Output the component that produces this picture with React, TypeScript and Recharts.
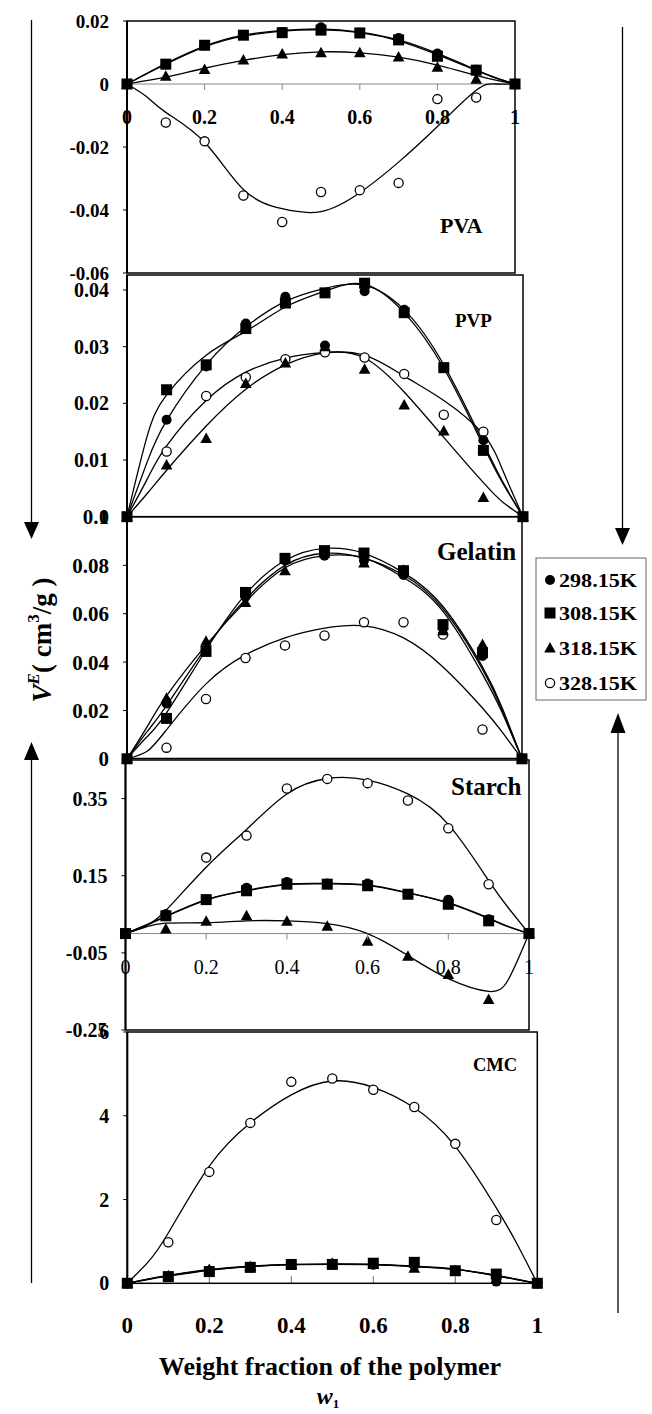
import React from "react";
import { ComposedChart, Line, Scatter, XAxis, YAxis, ReferenceLine } from "recharts";

const FONT = '"Liberation Serif", "Times New Roman", serif';

// temperatures (legend order)
const temps = ["298.15K", "308.15K", "318.15K", "328.15K"];
const kinds = ["circle", "square", "triangle", "open"];

// measured compositions
const xs = [0, 0.1, 0.2, 0.3, 0.4, 0.5, 0.6, 0.7, 0.8, 0.9, 1];
const fitX = [0, 0.05, 0.1, 0.2, 0.3, 0.4, 0.5, 0.6, 0.7, 0.8, 0.9, 0.95, 1];
const xTicks = [0, 0.2, 0.4, 0.6, 0.8, 1];

// PVA
const pva298 = [0, 0.0062, 0.0122, 0.0155, 0.0165, 0.018, 0.0163, 0.0146, 0.0097, 0.0045, 0];
const pva308 = [0, 0.0063, 0.0123, 0.0155, 0.0163, 0.0171, 0.0162, 0.014, 0.0088, 0.0044, 0];
const pva318 = [0, 0.0025, 0.0046, 0.0076, 0.0095, 0.0099, 0.0099, 0.0086, 0.0053, 0.0015, 0];
const pva328 = [0, -0.0122, -0.0182, -0.0354, -0.0438, -0.0343, -0.0337, -0.0314, -0.0048, -0.0043, 0];
const pvaFit298 = [0, 0.0033, 0.0065, 0.012, 0.0155, 0.017, 0.0175, 0.0165, 0.014, 0.0097, 0.0045, 0.002, 0];
const pvaFit308 = [0, 0.0032, 0.0063, 0.0118, 0.0152, 0.0168, 0.0172, 0.0163, 0.0137, 0.0093, 0.0043, 0.0019, 0];
const pvaFit318 = [0, 0.0011, 0.0022, 0.005, 0.0075, 0.0093, 0.0102, 0.0099, 0.0085, 0.006, 0.0027, 0.0012, 0];
const pvaFit328 = [0, -0.004, -0.009, -0.0185, -0.0335, -0.0396, -0.0405, -0.0345, -0.0248, -0.0135, -0.002, 0, 0];

// PVP
const pvp298 = [0, 0.0171, 0.0265, 0.0341, 0.0388, 0.0302, 0.0398, 0.0365, 0.0263, 0.0135, 0];
const pvp308 = [0, 0.0224, 0.0268, 0.0332, 0.0377, 0.0395, 0.0412, 0.036, 0.0263, 0.0117, 0];
const pvp318 = [0, 0.0091, 0.0138, 0.0235, 0.0271, 0.03, 0.026, 0.0197, 0.0151, 0.0034, 0];
const pvp328 = [0, 0.0115, 0.0213, 0.0246, 0.0278, 0.029, 0.0281, 0.0252, 0.018, 0.015, 0];
const pvpFit298 = [0, 0.0095, 0.017, 0.0268, 0.0335, 0.038, 0.0403, 0.0408, 0.0365, 0.0268, 0.013, 0.006, 0];
const pvpFit308 = [0, 0.014, 0.0215, 0.0285, 0.0327, 0.037, 0.0398, 0.041, 0.036, 0.0262, 0.0125, 0.0058, 0];
const pvpFit318 = [0, 0.004, 0.0082, 0.016, 0.0225, 0.0268, 0.0289, 0.028, 0.022, 0.014, 0.006, 0.0025, 0];
const pvpFit328 = [0, 0.0065, 0.0125, 0.0205, 0.0255, 0.028, 0.029, 0.0285, 0.0248, 0.0205, 0.0145, 0.008, 0];

// Gelatin
const gel298 = [0, 0.0229, 0.045, 0.067, 0.082, 0.084, 0.082, 0.076, 0.054, 0.0425, 0];
const gel308 = [0, 0.0167, 0.0444, 0.0688, 0.0829, 0.0861, 0.0851, 0.0778, 0.0555, 0.0439, 0];
const gel318 = [0, 0.025, 0.0486, 0.0646, 0.0778, 0.085, 0.081, 0.078, 0.053, 0.0473, 0];
const gel328 = [0, 0.0046, 0.0247, 0.0417, 0.0469, 0.051, 0.0565, 0.0565, 0.0514, 0.0121, 0];
const gelFit298 = [0, 0.011, 0.022, 0.046, 0.066, 0.08, 0.085, 0.083, 0.076, 0.062, 0.037, 0.02, 0];
const gelFit308 = [0, 0.009, 0.019, 0.045, 0.068, 0.082, 0.087, 0.085, 0.077, 0.063, 0.038, 0.021, 0];
const gelFit318 = [0, 0.013, 0.026, 0.047, 0.065, 0.079, 0.084, 0.083, 0.075, 0.061, 0.035, 0.019, 0];
const gelFit328 = [0, 0.003, 0.012, 0.031, 0.043, 0.05, 0.054, 0.055, 0.05, 0.038, 0.021, 0.011, 0];

// Starch
const st298 = [0, 0.048, 0.088, 0.119, 0.134, 0.13, 0.13, 0.102, 0.088, 0.037, 0];
const st308 = [0, 0.046, 0.088, 0.111, 0.128, 0.128, 0.124, 0.102, 0.076, 0.033, 0];
const st318 = [0, 0.012, 0.032, 0.046, 0.032, 0.019, -0.02, -0.059, -0.106, -0.171, 0];
const st328 = [0, 0.05, 0.197, 0.254, 0.376, 0.401, 0.39, 0.345, 0.273, 0.128, 0];
const stFit298 = [0, 0.022, 0.045, 0.088, 0.112, 0.128, 0.13, 0.126, 0.106, 0.08, 0.04, 0.018, 0];
const stFit308 = [0, 0.021, 0.044, 0.087, 0.111, 0.127, 0.129, 0.125, 0.105, 0.079, 0.039, 0.017, 0];
const stFit318 = [0, 0.017, 0.027, 0.028, 0.033, 0.033, 0.026, 0, -0.057, -0.117, -0.15, -0.117, 0];
const stFit328 = [0, 0.02, 0.06, 0.172, 0.27, 0.362, 0.402, 0.398, 0.362, 0.283, 0.137, 0.065, 0];

// CMC
const cmc298 = [0, 0.15, 0.3, 0.38, 0.45, 0.45, 0.44, 0.42, 0.3, 0.04, 0];
const cmc308 = [0, 0.16, 0.28, 0.38, 0.45, 0.45, 0.48, 0.5, 0.3, 0.22, 0];
const cmc318 = [0, 0.18, 0.33, 0.4, 0.44, 0.48, 0.45, 0.36, 0.3, 0.1, 0];
const cmc328 = [0, 0.98, 2.66, 3.83, 4.81, 4.89, 4.62, 4.21, 3.33, 1.51, 0];
const cmcFit298 = [0, 0.09, 0.17, 0.31, 0.4, 0.44, 0.45, 0.44, 0.4, 0.33, 0.18, 0.09, 0];
const cmcFit308 = [0, 0.1, 0.18, 0.32, 0.4, 0.45, 0.46, 0.45, 0.41, 0.34, 0.19, 0.1, 0];
const cmcFit318 = [0, 0.1, 0.19, 0.33, 0.41, 0.45, 0.46, 0.45, 0.4, 0.33, 0.18, 0.09, 0];
const cmcFit328 = [0, 0.5, 1.2, 2.8, 3.83, 4.5, 4.83, 4.68, 4.19, 3.27, 1.8, 0.95, 0];

const pts = (xArr: number[], ys: number[]) => ys.map((y, i) => ({ x: xArr[i], y }));

const panels = [
  {
    name: "PVA", left: 127, right: 515, top: 21, bottom: 273,
    domain: [-0.06, 0.02], yTicks: [-0.06, -0.04, -0.02, 0, 0.02], yFont: 19,
    xMode: "zero", xFont: 20, xWeight: 700,
    label: { x: 440, y: 233, size: 22 },
    marks: [pva298, pva308, pva318, pva328], fits: [pvaFit298, pvaFit308, pvaFit318, pvaFit328],
  },
  {
    name: "PVP", left: 127, right: 523, top: 275, bottom: 516.7,
    domain: [0, 0.04265], yTicks: [0, 0.01, 0.02, 0.03, 0.04], yFont: 20,
    xMode: "none", xFont: 20, xWeight: 700,
    label: { x: 455, y: 327, size: 19 },
    marks: [pvp298, pvp308, pvp318, pvp328], fits: [pvpFit298, pvpFit308, pvpFit318, pvpFit328],
  },
  {
    name: "Gelatin", left: 127, right: 522, top: 516.7, bottom: 758.5,
    domain: [0, 0.1], yTicks: [0, 0.02, 0.04, 0.06, 0.08, 0.1], yFont: 21,
    xMode: "none", xFont: 20, xWeight: 700,
    label: { x: 437, y: 560, size: 25 },
    marks: [gel298, gel308, gel318, gel328], fits: [gelFit298, gelFit308, gelFit318, gelFit328],
  },
  {
    name: "Starch", left: 125.5, right: 529, top: 760, bottom: 1030,
    domain: [-0.25, 0.45], yTicks: [-0.25, -0.05, 0.15, 0.35], yFont: 20,
    xMode: "zero", xFont: 20, xWeight: 400,
    label: { x: 451, y: 795, size: 25 },
    marks: [st298, st308, st318, st328], fits: [stFit298, stFit308, stFit318, stFit328],
  },
  {
    name: "CMC", left: 127.3, right: 537.3, top: 1032, bottom: 1283.3,
    domain: [0, 6], yTicks: [0, 2, 4, 6], yFont: 20,
    xMode: "bottom", xFont: 23, xWeight: 700,
    label: { x: 473, y: 1071, size: 18.5 },
    marks: [cmc298, cmc308, cmc318, cmc328], fits: [cmcFit298, cmcFit308, cmcFit318, cmcFit328],
  },
];

function Marker({ cx, cy, kind }: { cx: number; cy: number; kind: string }) {
  if (cx == null || cy == null) return null;
  if (kind === "circle") return <circle cx={cx} cy={cy} r={5} fill="#000" />;
  if (kind === "square") return <rect x={cx - 5.5} y={cy - 5.5} width={11} height={11} fill="#000" />;
  if (kind === "triangle")
    return <polygon points={`${cx},${cy - 6} ${cx + 5.8},${cy + 4.5} ${cx - 5.8},${cy + 4.5}`} fill="#000" />;
  return <circle cx={cx} cy={cy} r={4.6} fill="#fff" stroke="#000" strokeWidth={1.3} />;
}

const fmt = (v: number) => (v === 0 ? "0" : String(v));

function Panel({ p }: { p: (typeof panels)[number] }) {
  const pad = 15;
  const chartTop = p.top - pad;
  const plotH = p.bottom - p.top;
  const xAxisH = p.xMode === "bottom" ? 62 : 1;
  const bottomMargin = p.xMode === "bottom" ? 0 : 16;
  const height = plotH + pad + xAxisH + bottomMargin;
  const zeroY = pad + (p.domain[1] / (p.domain[1] - p.domain[0])) * plotH;
  const axisY = pad + plotH;

  const renderTick = (props: any) => {
    const v = props.payload.value;
    const x = props.x;
    if (p.xMode === "none") return <g />;
    if (p.xMode === "zero") {
      return (
        <g>
          {v > 0 && v < 1 && <line x1={x} x2={x} y1={zeroY} y2={zeroY + 6} stroke="#888" />}
          <text x={x} y={zeroY + 40} textAnchor="middle" fontFamily={FONT} fontSize={p.xFont} fontWeight={p.xWeight} fill="#000">
            {fmt(v)}
          </text>
        </g>
      );
    }
    return (
      <g>
        {v > 0 && v < 1 && <line x1={x} x2={x} y1={axisY} y2={axisY - 7} stroke="#666" />}
        <text x={x} y={axisY + 50} textAnchor="middle" fontFamily={FONT} fontSize={p.xFont} fontWeight={p.xWeight} fill="#000">
          {fmt(v)}
        </text>
      </g>
    );
  };

  const order = [3, 2, 1, 0];

  return (
    <div style={{ position: "absolute", left: 0, top: chartTop }}>
      <ComposedChart width={652} height={height} margin={{ top: pad, right: 652 - p.right, bottom: bottomMargin, left: 0 }}>
        <XAxis
          type="number"
          dataKey="x"
          domain={[0, 1]}
          ticks={xTicks}
          interval={0}
          height={xAxisH}
          axisLine={false}
          tickLine={false}
          tick={renderTick}
        />
        <YAxis
          type="number"
          dataKey="y"
          domain={p.domain}
          ticks={p.yTicks}
          interval={0}
          width={p.left}
          axisLine={false}
          tickSize={4}
          tickMargin={14}
          tickLine={{ stroke: "#000" }}
          tickFormatter={fmt}
          tick={{ fontFamily: FONT, fontSize: p.yFont, fontWeight: 700, fill: "#000" }}
        />
        {p.xMode !== "none" && p.domain[0] < 0 && <ReferenceLine y={0} stroke="#888" strokeWidth={1} />}
        {order.map((i) => (
          <Line
            key={"fit" + i}
            data={pts(fitX, p.fits[i])}
            dataKey="y"
            type="natural"
            stroke="#000"
            strokeWidth={1.3}
            dot={false}
            activeDot={false}
            isAnimationActive={false}
          />
        ))}
        {order.map((i) => (
          <Scatter
            key={"pt" + i}
            name={temps[i]}
            data={pts(xs, p.marks[i])}
            isAnimationActive={false}
            shape={(s: any) => <Marker cx={s.cx} cy={s.cy} kind={kinds[i]} />}
          />
        ))}
      </ComposedChart>
    </div>
  );
}

function Overlay() {
  const legendRows = [580, 613, 648, 683];
  return (
    <svg width={652} height={1414} style={{ position: "absolute", left: 0, top: 0, pointerEvents: "none" }}>
      {panels.map((p) => (
        <g key={p.name}>
          <rect x={p.left} y={p.top} width={p.right - p.left} height={p.bottom - p.top} fill="none" stroke="#000" strokeWidth={1.5} />
          <line x1={p.left} x2={p.left} y1={p.top} y2={p.bottom} stroke="#000" strokeWidth={2} />
          <text x={p.label.x} y={p.label.y} fontFamily={FONT} fontSize={p.label.size} fontWeight={700} fill="#000">
            {p.name}
          </text>
        </g>
      ))}

      {/* left arrows */}
      <line x1={31.5} x2={31.5} y1={20} y2={525} stroke="#000" strokeWidth={1.3} />
      <polygon points="24,522 39,522 31.5,539" fill="#000" />
      <line x1={31.5} x2={31.5} y1={755} y2={1283} stroke="#000" strokeWidth={1.3} />
      <polygon points="24,760 39,760 31.5,742" fill="#000" />

      {/* right arrows */}
      <line x1={622.5} x2={622.5} y1={27} y2={530} stroke="#000" strokeWidth={1.3} />
      <polygon points="615,528 630,528 622.5,545" fill="#000" />
      <line x1={618} x2={618} y1={728} y2={1313} stroke="#000" strokeWidth={1.3} />
      <polygon points="610.5,733 625.5,733 618,713" fill="#000" />

      {/* legend */}
      <rect x={536} y={558} width={110} height={142} fill="#fff" stroke="#666" strokeWidth={1} />
      {temps.map((t, i) => (
        <g key={t}>
          <Marker cx={550} cy={legendRows[i]} kind={kinds[i]} />
          <text x={559} y={legendRows[i] + 6.5} fontFamily={FONT} fontSize={19} fontWeight={700} fill="#000" textLength={78} lengthAdjust="spacingAndGlyphs">
            {t}
          </text>
        </g>
      ))}

      {/* y title */}
      <g transform="translate(51,640) rotate(-90)">
        <text x={0} y={0} textAnchor="middle" fontFamily={FONT} fontSize={27} fontWeight={700} fill="#000">
          <tspan fontStyle="italic">V</tspan>
          <tspan fontStyle="italic" fontSize={17} dy={-12}>E</tspan>
          <tspan dy={12}>{"( cm"}</tspan>
          <tspan fontSize={17} dy={-12}>3</tspan>
          <tspan dy={12}>{"/g )"}</tspan>
        </text>
      </g>

      {/* x title */}
      <text x={330} y={1375} textAnchor="middle" fontFamily={FONT} fontSize={26} fontWeight={700} fill="#000">
        Weight fraction of the polymer
      </text>
      <text x={328} y={1404} textAnchor="middle" fontFamily={FONT} fontSize={24} fontWeight={700} fill="#000">
        <tspan fontStyle="italic">w</tspan>
        <tspan fontSize={13} dy={4}>1</tspan>
      </text>
    </svg>
  );
}

export default function App() {
  return (
    <div style={{ position: "absolute", left: 0, top: 0, width: 652, height: 1414, background: "#fff" }}>
      {panels.map((p) => (
        <Panel key={p.name} p={p} />
      ))}
      <Overlay />
    </div>
  );
}
